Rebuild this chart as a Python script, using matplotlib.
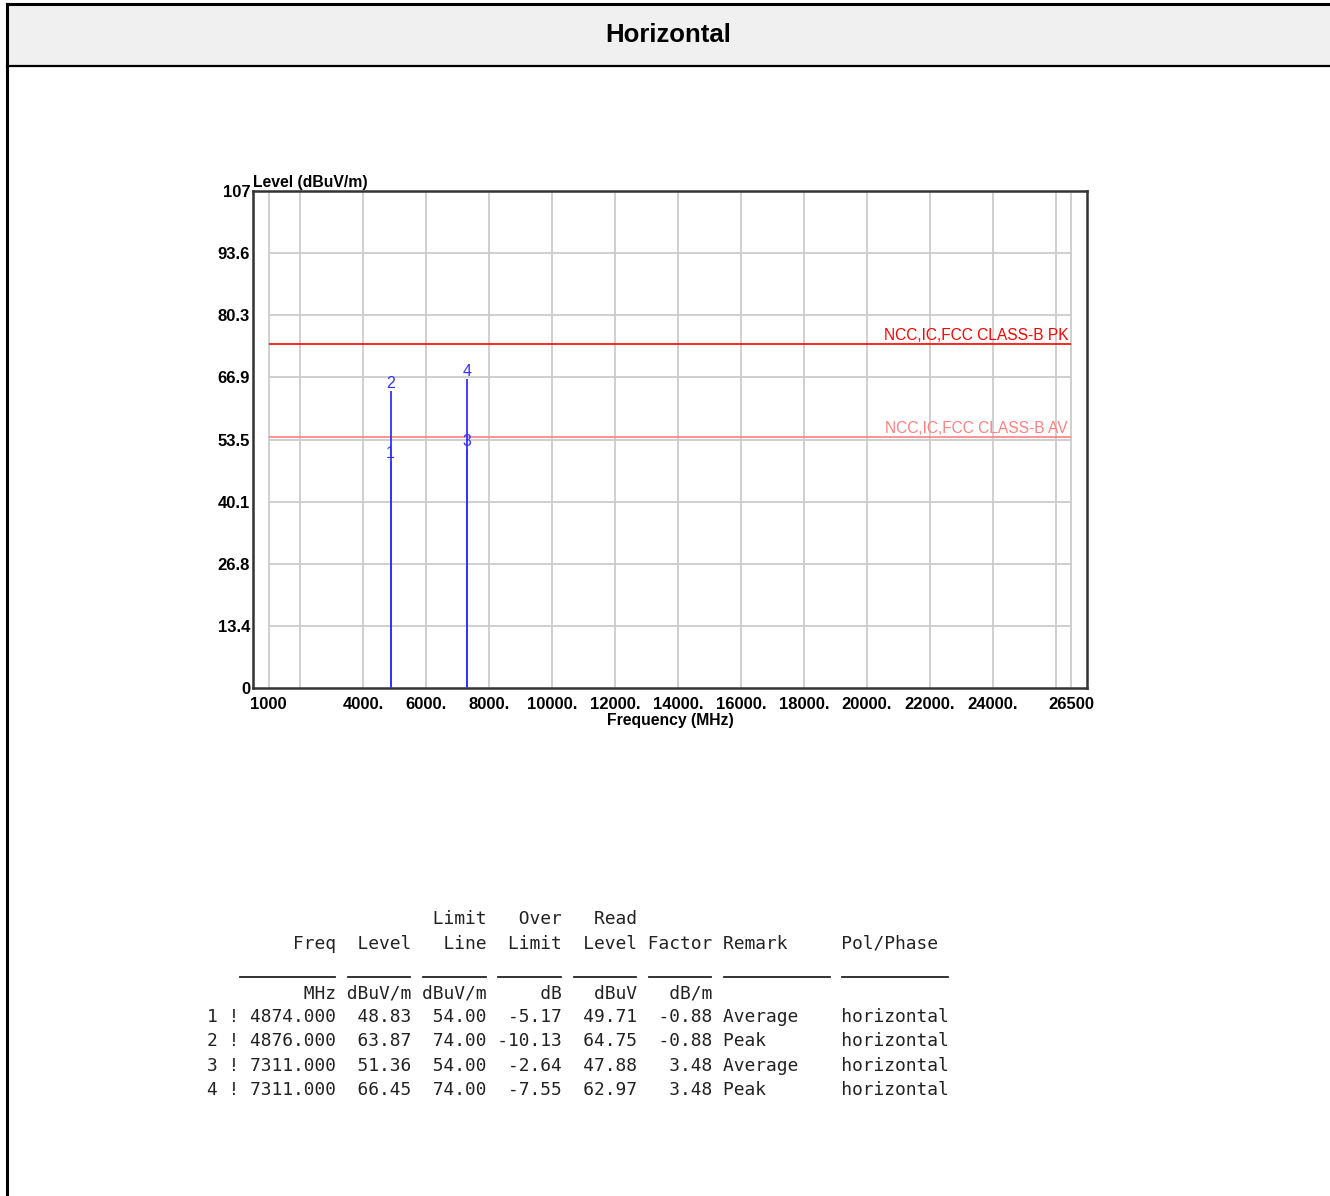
import matplotlib
matplotlib.use("Agg")
import matplotlib.pyplot as plt
from matplotlib.patches import Rectangle

# data
freq = [4874.000, 4876.000, 7311.000, 7311.000]
level = [48.83, 63.87, 51.36, 66.45]
limit = [54.00, 74.00, 54.00, 74.00]
over = [-5.17, -10.13, -2.64, -7.55]
read = [49.71, 64.75, 47.88, 62.97]
factor = [-0.88, -0.88, 3.48, 3.48]
remark = ["Average", "Peak", "Average", "Peak"]
pol = ["horizontal"] * 4

limit_pk = 74.0
limit_av = 54.0
limit_pk_label = "NCC,IC,FCC CLASS-B PK"
limit_av_label = "NCC,IC,FCC CLASS-B AV"

x_ticks = [1000, 4000, 6000, 8000, 10000, 12000, 14000, 16000, 18000,
           20000, 22000, 24000, 26500]
x_ticklabels = ["1000", "4000.", "6000.", "8000.", "10000.", "12000.", "14000.",
                "16000.", "18000.", "20000.", "22000.", "24000.", "26500"]
x_grid = [1000, 2000, 4000, 6000, 8000, 10000, 12000, 14000, 16000, 18000,
          20000, 22000, 24000, 26000, 26500]
y_ticks = [0, 13.4, 26.8, 40.1, 53.5, 66.9, 80.3, 93.6, 107]
y_ticklabels = ["0", "13.4", "26.8", "40.1", "53.5", "66.9", "80.3", "93.6", "107"]

W, H = 1330, 1196
fig = plt.figure(figsize=(W / 100, H / 100), dpi=100)

# background canvas in pixel coords
bg = fig.add_axes([0, 0, 1, 1])
bg.set_xlim(0, W)
bg.set_ylim(H, 0)
bg.axis("off")
bg.add_patch(Rectangle((7, 4), W, 62, facecolor="#f0f0f0", edgecolor="none"))
bg.plot([7, W], [4, 4], color="black", lw=2.2)
bg.plot([7, W], [66, 66], color="black", lw=1.6)
bg.plot([7, 7], [4, H], color="black", lw=2.2)
bg.text(668, 35, "Horizontal", ha="center", va="center", fontsize=18.5,
        fontweight="bold", family="Liberation Sans")

# result table
mono = dict(family="DejaVu Sans Mono", fontsize=12.9, color="#222222")
x0, dy = 207, 24.4
hdr1 = "%26s%7s%7s" % ("Limit", "Over", "Read")
hdr2 = "%12s%7s%7s%7s%7s%7s %-10s %s" % ("Freq", "Level", "Line", "Limit", "Level",
                                         "Factor", "Remark", "Pol/Phase")
units = "%12s%7s%7s%7s%7s%7s" % ("MHz", "dBuV/m", "dBuV/m", "dB", "dBuV", "dB/m")
bg.text(x0, 919, hdr1, va="center", **mono)
bg.text(x0, 944, hdr2, va="center", **mono)
cw = 10.75
for c0, c1 in [(3, 12), (13, 19), (20, 26), (27, 33), (34, 40), (41, 47), (48, 58), (59, 69)]:
    bg.plot([x0 + c0 * cw + 1, x0 + c1 * cw - 1], [977, 977], color="#222222", lw=1.3)
bg.text(x0, 993, units, va="center", **mono)
for i in range(len(freq)):
    row = "%d ! %8.3f%7.2f%7.2f%7.2f%7.2f%7.2f %-10s %s" % (
        i + 1, freq[i], level[i], limit[i], over[i], read[i], factor[i], remark[i], pol[i])
    bg.text(x0, 1017 + i * dy, row, va="center", **mono)

# main chart
ax = fig.add_axes([253 / W, (H - 688) / H, (1087 - 253) / W, (688 - 191) / H])
ax.set_xlim(500, 27000)
ax.set_ylim(0, 107)
ax.vlines(x_grid, 0, 107, color="#cccccc", lw=1.3, zorder=1)
ax.hlines(y_ticks[1:-1], 1000, 26500, color="#cccccc", lw=1.3, zorder=1)

ax.hlines(limit_pk, 1000, 26500, color="#ff0000", lw=1.2, zorder=2)
ax.hlines(limit_av, 1000, 26500, color="#ff8080", lw=1.2, zorder=2)
ax.annotate(limit_pk_label, (26400, limit_pk), xytext=(0, 1), textcoords="offset pixels",
            ha="right", va="bottom", color="#ff0000", fontsize=11.2, family="Liberation Sans")
ax.annotate(limit_av_label, (26400, limit_av), xytext=(0, 1), textcoords="offset pixels",
            ha="right", va="bottom", color="#ff8080", fontsize=11.2, family="Liberation Sans")

ax.vlines(freq, 0, level, color="#3333ff", lw=1.3, zorder=3)
for i in range(len(freq)):
    ax.annotate(str(i + 1), (freq[i], level[i]), xytext=(0, 8), textcoords="offset pixels",
                ha="center", va="center", color="#3333ff", fontsize=11.5,
                family="Liberation Sans", zorder=4)

for s in ax.spines.values():
    s.set_color("#333333")
    s.set_linewidth(1.8)
ax.tick_params(axis="x", length=0, pad=6.5)
ax.tick_params(axis="y", length=0, pad=2)
ax.set_xticks(x_ticks)
ax.set_xticklabels(x_ticklabels, fontsize=12, fontweight="bold", family="Liberation Sans")
ax.set_yticks(y_ticks)
ax.set_yticklabels(y_ticklabels, fontsize=12, fontweight="bold", family="Liberation Sans")
ax.set_xlabel("Frequency (MHz)", fontsize=11.3, fontweight="bold", family="Liberation Sans",
              labelpad=0.5)
ax.text(0, 1.003, "Level (dBuV/m)", transform=ax.transAxes, ha="left", va="bottom",
        fontsize=11.3, fontweight="bold", family="Liberation Sans")

fig.savefig("out.png", dpi=100)
